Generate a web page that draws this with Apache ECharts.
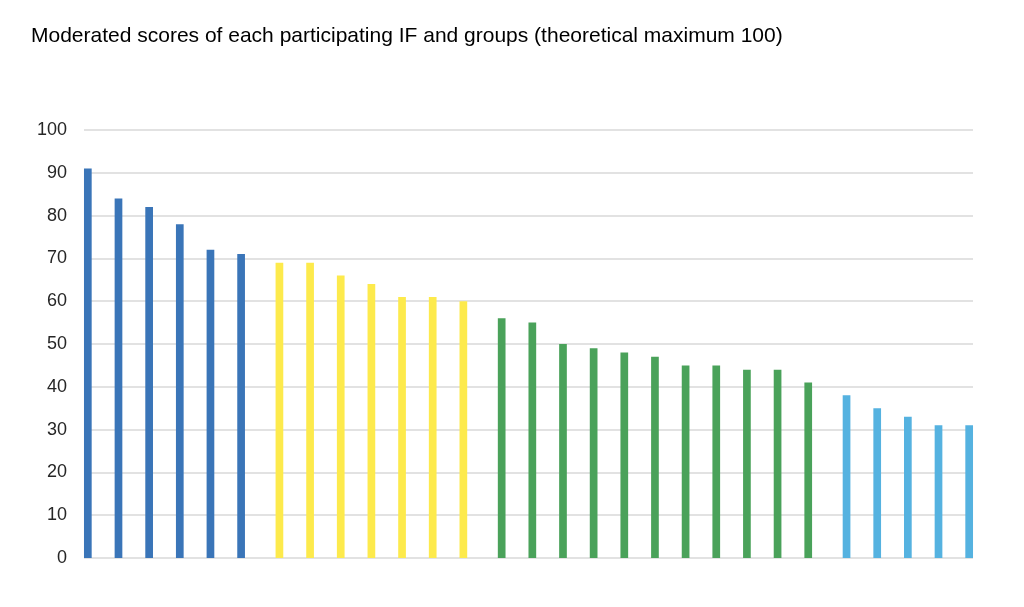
<!DOCTYPE html>
<html><head><meta charset="utf-8">
<script src="https://cdn.jsdelivr.net/npm/echarts@6/dist/echarts.min.js"></script>
<style>html,body{margin:0;padding:0;background:#fff}#c{width:1024px;height:607px}</style>
</head><body><div id="c"></div>
<script>
const title = 'Moderated scores of each participating IF and groups (theoretical maximum 100)';
const yTicks = [0,10,20,30,40,50,60,70,80,90,100];
const groupA = [91, 84, 82, 78, 72, 71];
const groupB = [69, 69, 66, 64, 61, 61, 60];
const groupC = [56, 55, 50, 49, 48, 47, 45, 45, 44, 44, 41];
const groupD = [38, 35, 33, 31, 31];
const groups = [groupA, groupB, groupC, groupD];
const colors = ['#3a75b8', '#fdea4c', '#4aa25a', '#55b2e0'];

const GAP = 0.25;
const data = [];
let idx = 0;
groups.forEach((g, gi) => {
  g.forEach(v => {
    data.push({ value: [idx + gi * GAP, v], itemStyle: { color: colors[gi] } });
    idx++;
  });
});
const lastX = (idx - 1) + (groups.length - 1) * GAP;

const chart = echarts.init(document.getElementById('c'));
chart.setOption({
  animation: false,
  title: { text: title, left: 26, top: 21, textStyle: { fontFamily: 'Liberation Sans, Arial', fontSize: 21, fontWeight: 'normal', color: '#000' } },
  grid: { left: 84, right: 51, top: 130, bottom: 49 },
  xAxis: { type: 'value', min: -0.125, max: lastX + 0.125, show: false, splitLine: { show: false } },
  yAxis: {
    type: 'value', min: yTicks[0], max: yTicks[yTicks.length - 1], interval: 10,
    axisLine: { show: false }, axisTick: { show: false },
    axisLabel: { margin: 17, fontFamily: 'Liberation Sans, Arial', fontSize: 18, color: '#262626' },
    splitLine: { lineStyle: { color: '#d9d9d9', width: 1.5 } }
  },
  series: [{ type: 'bar', barWidth: 7.7, data: data }]
});
</script></body></html>
